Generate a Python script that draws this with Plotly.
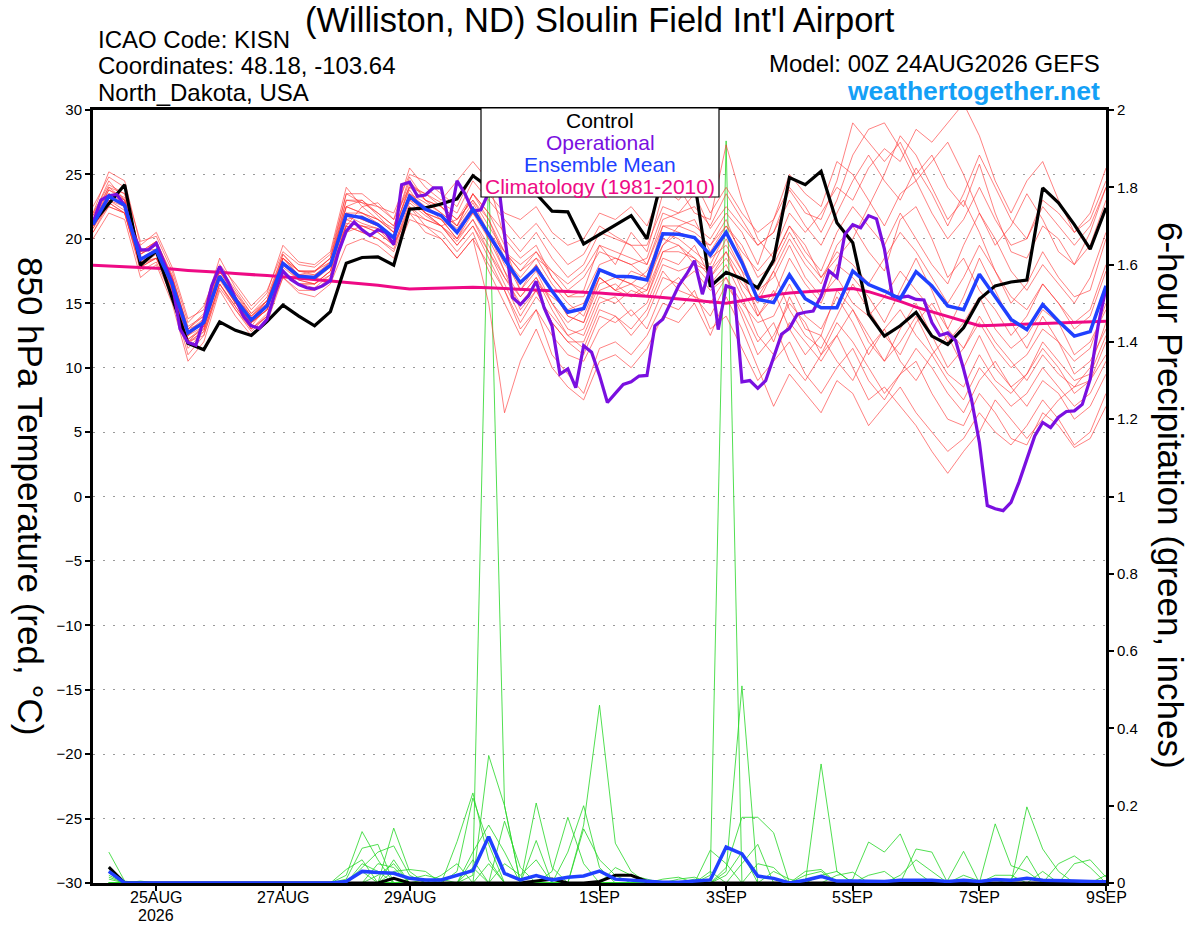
import pandas as pd
import plotly.graph_objects as go

# ---------------- DATA ----------------
TIMES_6H = pd.date_range("2026-08-24 00:00", periods=65, freq="6h")
TIMES_3H = pd.date_range("2026-08-24 00:00", periods=129, freq="3h")
TIMES_PCP = pd.date_range("2026-08-24 06:00", periods=64, freq="6h")

TICK_DATES = ["2026-08-25", "2026-08-27", "2026-08-29", "2026-09-01",
              "2026-09-03", "2026-09-05", "2026-09-07", "2026-09-09"]
TICK_TEXT = ["25AUG", "27AUG", "29AUG", "1SEP", "3SEP", "5SEP", "7SEP", "9SEP"]
YEAR_TEXT = "2026"
TEMP_TICKS = [-30, -25, -20, -15, -10, -5, 0, 5, 10, 15, 20, 25, 30]
PCP_TICKS = [0, 0.2, 0.4, 0.6, 0.8, 1, 1.2, 1.4, 1.6, 1.8, 2]
PCP_TICK_TEXT = ["0", "0.2", "0.4", "0.6", "0.8", "1", "1.2", "1.4", "1.6", "1.8", "2"]

control_t = [21.25, 22.7, 24.2, 17.95, 19.05, 15.4, 11.9, 11.4, 13.55, 12.9, 12.5, 13.6, 14.85, 14.0, 13.25, 14.35,
             18.1, 18.55, 18.6, 17.95, 22.3, 22.4, 22.7, 23.1, 24.9, 24.0, 25.5, 25.0, 23.5, 22.15, 22.1, 19.6,
             20.35, 21.05, 21.8, 20.0, 25.0, 25.5, 24.5, 16.3, 17.4, 16.9, 16.2, 18.35, 24.75, 24.2, 25.25, 21.25,
             19.7, 14.15, 12.45, 13.25, 14.3, 12.45, 11.8, 13.1, 15.3, 16.35, 16.65, 16.8, 23.95, 22.8, 21.1, 19.2, 22.4]

mean_t = [21.1, 23.3, 22.6, 18.4, 19.1, 16.5, 12.7, 13.5, 17.1, 15.3, 13.7, 14.8, 18.1, 17.1, 17.0, 17.95,
          21.85, 21.65, 21.1, 20.1, 23.3, 22.3, 21.8, 20.5, 22.3, 20.35, 18.4, 16.6, 17.75, 15.95, 14.3, 14.6,
          17.6, 17.1, 17.05, 16.8, 20.4, 20.35, 20.1, 18.75, 20.5, 18.15, 15.3, 15.05, 17.2, 15.35, 14.65, 14.65,
          17.5, 16.45, 15.95, 15.35, 17.45, 16.35, 14.8, 14.5, 17.25, 15.5, 13.75, 12.95, 14.9, 13.6, 12.45, 12.8, 16.35]

clim_t = [17.95, 17.9, 17.85, 17.8, 17.7, 17.65, 17.55, 17.5, 17.4, 17.3, 17.25, 17.15, 17.05, 16.95, 16.85, 16.75,
          16.6, 16.5, 16.4, 16.25, 16.1, 16.15, 16.2, 16.25, 16.25, 16.2, 16.15, 16.1, 16.0, 15.95, 15.9, 15.85,
          15.8, 15.7, 15.65, 15.55, 15.45, 15.35, 15.25, 15.1, 15.0, 15.2, 15.45, 15.65, 15.8, 15.9, 16.0, 16.1,
          16.15, 15.9, 15.55, 15.15, 14.7, 14.35, 14.0, 13.6, 13.25, 13.3, 13.35, 13.4, 13.45, 13.5, 13.5, 13.55, 13.6]

oper_t = [21.25, 23.0, 23.35, 23.45, 22.6, 20.5, 19.15, 19.15, 19.65, 18.15,
          16.6, 13.0, 11.95, 11.75, 13.75, 16.35, 17.85, 16.75, 15.3, 14.0,
          13.25, 13.05, 13.75, 15.8, 17.5, 16.85, 16.45, 16.2, 16.1, 16.35,
          16.75, 18.95, 20.6, 21.3, 20.7, 20.25, 20.7, 20.5, 19.55, 24.2,
          24.4, 23.3, 23.4, 23.95, 23.95, 21.25, 24.5, 23.5, 22.15, 22.25,
          23.6, 25.5, 20.35, 15.45, 14.9, 15.55, 16.7, 14.65, 13.25, 9.5,
          9.9, 8.45, 11.7, 11.2, 9.4, 7.3, 8.0, 8.7, 8.9, 9.35,
          9.4, 13.25, 13.75, 15.05, 16.35, 17.25, 18.3, 15.7, 17.85, 12.95,
          16.35, 16.15, 8.9, 9.0, 8.4, 9.0, 10.9, 12.6, 13.05, 14.15,
          14.3, 14.4, 15.55, 17.5, 17.0, 20.35, 21.1, 20.85, 21.8, 21.55,
          19.2, 15.55, 15.45, 15.55, 15.3, 15.25, 13.5, 12.5, 12.7, 12.1,
          9.9, 7.55, 4.2, -0.7, -0.95, -1.1, -0.45, 1.1, 2.9, 4.7,
          5.75, 5.35, 6.15, 6.6, 6.65, 7.15, 9.1, 13.25, 16.2]

# ensemble members, 850 hPa temperature (6-hourly)
mem01_t = [21.5, 24.0, 23.5, 19.0, 19.8, 17.2, 13.0, 14.2, 17.8, 16.0, 14.2, 15.5, 18.8, 17.5, 17.4, 18.5,
           22.5, 23.0, 21.8, 20.5, 24.2, 23.5, 22.8, 22.0, 24.5,
           23.0, 21.5, 20.0, 21.2, 19.5, 18.0, 18.8, 21.0, 20.2, 19.5, 18.0, 21.5, 22.0, 23.5, 20.8, 22.5,
           21.0, 19.5, 20.5, 23.8, 22.0, 21.5, 24.5, 29.0, 27.5, 26.0, 27.5, 25.0, 26.5, 24.0, 22.5, 25.8,
           22.0, 19.0, 18.5, 21.0, 20.0, 18.0, 19.5, 23.0]
mem02_t = [20.8, 22.8, 22.0, 17.8, 18.5, 15.8, 12.0, 12.8, 16.5, 14.8, 13.0, 14.0, 17.5, 16.5, 16.2, 17.2,
           21.0, 20.5, 20.0, 19.2, 22.5, 21.0, 20.5, 19.0, 20.5,
           17.5, 15.0, 12.5, 14.5, 11.0, 9.5, 8.0, 11.5, 12.0, 11.0, 12.5, 15.0, 14.5, 16.0, 13.0, 14.0,
           11.5, 9.0, 10.5, 12.0, 9.5, 8.0, 10.0, 11.5, 9.0, 7.5, 9.5, 10.5, 8.0, 6.0, 5.5, 8.0,
           6.5, 4.5, 4.0, 6.5, 5.5, 3.8, 4.5, 7.0]
mem03_t = [22.0, 25.2, 24.5, 19.5, 20.5, 17.8, 13.8, 14.5, 18.5, 16.2, 14.5, 15.8, 19.5, 18.2, 18.0, 19.0,
           24.0, 22.5, 22.8, 21.5, 25.5, 24.0, 23.0, 24.5, 26.0,
           24.5, 20.0, 18.5, 19.5, 17.0, 15.5, 16.0, 19.5, 18.0, 20.5, 19.0, 23.5, 24.0, 22.0, 21.5, 27.3,
           23.0, 20.0, 18.5, 21.0, 19.5, 17.0, 18.5, 20.0, 22.5, 25.0, 28.0, 26.5, 24.0, 21.5, 23.0, 20.5,
           17.5, 15.0, 16.5, 19.0, 17.0, 15.5, 16.0, 20.0]
mem04_t = [21.0, 23.0, 22.5, 18.2, 19.0, 16.0, 11.8, 13.0, 17.0, 15.0, 13.5, 14.5, 18.0, 17.0, 16.8, 17.8,
           21.5, 21.8, 21.0, 20.0, 23.0, 22.5, 21.5, 20.0, 22.0,
           20.5, 18.0, 16.5, 18.0, 16.0, 14.0, 13.5, 16.5, 17.0, 16.5, 17.5, 20.0, 19.5, 18.0, 17.5, 19.0,
           17.0, 14.5, 12.0, 15.5, 13.0, 12.5, 16.0, 14.5, 12.0, 10.5, 13.0, 15.0, 12.5, 10.0, 11.5, 14.0,
           12.0, 10.5, 9.0, 11.0, 9.5, 8.5, 10.0, 13.5]
mem05_t = [21.8, 24.5, 23.0, 18.8, 19.5, 16.8, 12.5, 13.8, 17.5, 15.5, 14.0, 15.0, 18.5, 17.2, 17.5, 18.2,
           22.0, 22.0, 21.5, 20.8, 23.8, 22.0, 21.0, 21.5, 23.0,
           21.0, 19.0, 17.5, 18.5, 17.5, 16.0, 17.0, 19.0, 18.5, 18.0, 17.0, 19.5, 21.0, 21.5, 19.0, 21.0,
           19.0, 17.5, 19.0, 22.0, 20.5, 22.0, 24.0, 23.0, 25.5, 27.0, 26.0, 28.5, 27.5, 29.0, 30.5, 28.0,
           24.5, 22.0, 24.5, 26.0, 23.0, 20.5, 22.0, 25.5]
mem06_t = [20.5, 22.5, 22.0, 17.5, 18.2, 15.5, 11.0, 12.5, 16.2, 14.5, 12.8, 14.0, 17.0, 16.0, 16.0, 17.0,
           20.5, 21.0, 20.5, 19.5, 22.0, 21.5, 21.0, 19.5, 21.0,
           19.0, 16.5, 14.0, 16.0, 13.5, 12.0, 11.0, 14.0, 13.5, 14.5, 13.0, 16.0, 17.0, 15.5, 14.0, 16.5,
           14.5, 12.0, 13.5, 10.5, 9.0, 11.0, 12.5, 10.0, 7.5, 8.5, 7.0, 5.5, 3.5, 1.8, 3.5, 5.0,
           7.5, 6.0, 4.5, 6.0, 7.5, 8.5, 9.0, 11.0]
mem07_t = [21.2, 23.8, 23.2, 19.0, 19.2, 16.2, 12.2, 13.2, 17.2, 15.2, 13.8, 15.0, 18.2, 16.8, 17.0, 18.0,
           23.0, 22.8, 22.0, 21.0, 24.8, 23.0, 22.5, 21.0, 23.5,
           22.0, 19.5, 16.0, 17.5, 15.0, 13.0, 12.5, 15.5, 15.0, 16.0, 15.5, 18.5, 18.0, 19.5, 17.0, 18.5,
           16.5, 15.0, 17.5, 20.0, 18.0, 16.5, 19.5, 21.0, 19.0, 17.5, 21.5, 22.5, 20.0, 17.0, 18.5, 16.0,
           14.5, 12.5, 14.0, 16.5, 15.0, 13.5, 14.5, 18.0]
mem08_t = [20.0, 22.0, 21.5, 17.0, 18.0, 15.0, 10.5, 12.0, 16.0, 14.0, 12.5, 13.5, 17.0, 15.8, 15.5, 16.5,
           19.5, 20.0, 19.5, 18.5, 21.5, 21.0, 20.0, 18.5, 20.0,
           18.0, 16.0, 13.0, 14.5, 12.5, 11.0, 10.5, 13.0, 14.0, 12.5, 14.0, 17.0, 16.5, 17.5, 16.0, 17.0,
           15.0, 13.5, 14.0, 16.5, 14.0, 13.0, 15.5, 13.5, 11.0, 13.0, 14.5, 12.5, 11.0, 9.0, 7.5, 10.0,
           8.5, 7.0, 8.0, 10.0, 8.5, 7.0, 8.0, 10.5]
mem09_t = [22.5, 24.8, 24.0, 19.8, 20.2, 17.5, 13.5, 14.8, 18.0, 16.5, 14.8, 16.0, 19.0, 18.0, 17.8, 18.8,
           23.5, 23.5, 22.5, 22.0, 25.0, 24.5, 23.5, 22.5, 25.0,
           23.5, 22.0, 21.5, 22.5, 20.5, 19.5, 20.0, 22.0, 21.5, 22.5, 21.0, 24.0, 23.0, 24.5, 22.0, 24.0,
           22.0, 20.5, 21.5, 25.0, 23.5, 22.5, 26.0, 25.0, 23.0, 21.0, 23.5, 24.5, 22.0, 20.0, 21.5, 24.0,
           21.5, 19.5, 20.0, 23.0, 22.0, 20.5, 21.5, 24.5]
mem10_t = [21.5, 23.5, 22.8, 18.5, 19.0, 16.5, 13.0, 13.5, 17.0, 15.2, 13.2, 14.8, 18.0, 17.0, 16.8, 18.0,
           22.0, 21.5, 21.0, 20.0, 23.5, 22.5, 21.8, 20.8, 22.5,
           20.0, 17.5, 15.5, 17.0, 14.5, 12.5, 13.0, 16.0, 16.5, 15.5, 16.0, 19.0, 19.5, 18.5, 17.5, 20.0,
           17.5, 14.0, 15.5, 18.5, 16.5, 15.0, 18.0, 17.0, 15.5, 13.5, 16.0, 18.5, 16.0, 13.0, 15.5, 18.5,
           16.0, 13.5, 11.5, 14.0, 12.0, 10.5, 11.5, 15.0]
mem11_t = [21.0, 23.0, 22.2, 18.0, 18.8, 16.0, 12.5, 13.2, 16.8, 15.0, 13.5, 14.5, 17.8, 16.8, 16.5, 17.5,
           22.5, 22.0, 21.2, 20.2, 23.0, 22.0, 21.0, 19.8, 21.5,
           19.5, 17.0, 15.0, 16.5, 15.5, 14.5, 15.0, 17.5, 17.0, 16.5, 16.0, 20.5, 20.0, 19.0, 18.0, 20.5,
           18.0, 16.0, 17.0, 19.5, 17.0, 15.5, 17.0, 15.0, 14.0, 15.5, 17.5, 16.0, 14.5, 12.0, 13.5, 15.5,
           13.0, 11.5, 12.5, 14.5, 13.5, 11.0, 12.0, 14.5]
mem12_t = [20.8, 23.2, 22.5, 18.2, 18.5, 16.2, 12.2, 13.0, 17.0, 15.0, 13.5, 14.8, 18.5, 17.2, 17.2, 18.0,
           21.8, 21.2, 20.8, 19.8, 23.2, 22.0, 21.5, 20.5, 22.0,
           20.0, 18.5, 17.0, 18.5, 16.5, 15.0, 14.0, 17.0, 16.0, 17.5, 17.0, 21.0, 20.5, 20.0, 19.5, 21.5,
           18.5, 15.5, 17.5, 14.5, 12.5, 11.5, 14.0, 16.5, 14.5, 12.5, 11.0, 13.5, 15.0, 13.0, 11.5, 13.5,
           11.5, 10.0, 11.0, 13.0, 12.0, 9.5, 10.5, 13.0]
mem13_t = [21.8, 24.0, 23.0, 18.8, 19.5, 17.0, 13.2, 14.0, 17.8, 15.8, 14.2, 15.2, 18.8, 17.5, 17.5, 18.5,
           23.5, 22.8, 22.5, 21.5, 24.0, 23.5, 22.5, 21.5, 23.0,
           21.5, 19.0, 17.5, 19.0, 17.0, 15.5, 15.5, 18.0, 18.5, 18.0, 18.5, 22.0, 21.5, 21.0, 20.0, 22.0,
           20.5, 18.0, 21.5, 24.0, 22.5, 20.5, 23.0, 26.5, 28.5, 29.0, 27.0, 24.5, 26.0, 27.5, 25.0, 22.0,
           19.5, 21.0, 23.5, 21.5, 19.0, 18.0, 20.5, 24.0]
mem14_t = [21.2, 23.5, 23.0, 18.5, 19.2, 16.8, 12.8, 13.8, 17.5, 15.5, 13.8, 15.2, 18.2, 17.2, 17.0, 18.2,
           21.0, 22.5, 21.5, 20.5, 23.5, 22.8, 22.0, 21.0, 22.8,
           20.5, 17.5, 14.5, 16.0, 13.5, 12.0, 12.0, 15.0, 15.5, 14.0, 15.0, 18.0, 17.5, 18.0, 16.5, 18.0,
           15.5, 12.5, 11.0, 13.5, 12.0, 10.5, 12.5, 14.5, 12.5, 10.5, 12.0, 14.0, 11.5, 9.5, 8.5, 11.0,
           9.0, 8.0, 9.5, 12.0, 10.5, 9.0, 9.5, 12.5]
mem15_t = [21.5, 23.8, 23.0, 18.8, 19.8, 17.0, 12.8, 13.5, 17.2, 15.5, 14.0, 15.2, 18.5, 17.5, 17.2, 18.2,
           22.5, 22.0, 21.5, 20.5, 24.0, 23.0, 22.0, 21.0, 23.5,
           21.5, 18.5, 16.0, 18.0, 16.0, 14.0, 13.5, 17.0, 16.0, 15.5, 16.5, 19.5, 20.5, 20.0, 18.5, 19.5,
           17.5, 16.0, 18.5, 21.0, 19.0, 17.5, 20.5, 22.5, 21.0, 19.5, 22.0, 20.0, 18.0, 16.5, 19.5, 22.0,
           20.0, 17.5, 16.0, 18.0, 16.5, 15.0, 17.0, 20.5]
mem16_t = [20.5, 22.8, 22.0, 17.8, 18.5, 15.8, 11.5, 12.8, 16.5, 14.8, 13.0, 14.2, 17.5, 16.5, 16.5, 17.2,
           21.2, 21.0, 20.5, 19.5, 22.5, 21.5, 21.0, 19.5, 21.0,
           18.5, 16.0, 13.5, 15.5, 14.0, 12.5, 11.5, 14.5, 14.0, 13.0, 14.5, 17.5, 16.0, 15.5, 15.0, 17.0,
           14.0, 11.0, 12.5, 15.0, 13.5, 11.0, 13.5, 12.0, 10.0, 8.0, 9.5, 11.5, 10.0, 8.0, 6.5, 9.0,
           10.5, 8.5, 7.0, 9.0, 8.0, 6.0, 7.0, 9.5]
mem17_t = [21.0, 23.5, 22.5, 18.0, 19.0, 16.5, 12.5, 13.5, 17.0, 15.5, 13.5, 14.5, 18.0, 17.0, 17.0, 18.0,
           22.0, 21.5, 21.0, 20.0, 23.5, 22.0, 21.5, 20.0, 22.5,
           20.5, 19.0, 18.0, 19.0, 17.5, 16.5, 17.5, 19.5, 19.0, 18.5, 18.0, 21.0, 21.0, 20.5, 19.5, 21.0,
           19.5, 17.0, 18.0, 20.5, 18.5, 17.0, 19.0, 18.0, 16.5, 18.5, 20.5, 19.0, 17.0, 15.0, 17.0, 19.5,
           17.5, 15.5, 14.5, 16.5, 15.0, 13.0, 14.0, 17.5]
mem18_t = [21.5, 23.2, 22.8, 18.5, 19.0, 16.2, 12.0, 13.2, 17.0, 15.0, 13.5, 14.5, 18.0, 16.8, 16.5, 17.5,
           21.5, 21.0, 20.8, 19.5, 22.8, 21.8, 21.0, 20.0, 21.5,
           19.0, 17.0, 15.5, 17.0, 15.0, 13.5, 14.5, 17.0, 16.0, 16.5, 15.5, 19.0, 19.0, 18.5, 17.0, 19.0,
           16.0, 14.0, 16.0, 13.0, 11.0, 12.5, 10.5, 9.0, 11.5, 13.0, 10.5, 9.0, 11.0, 12.5, 10.0, 12.5,
           10.0, 8.5, 9.5, 11.5, 10.0, 8.0, 9.0, 12.0]
mem19_t = [22.0, 24.2, 23.5, 19.0, 19.8, 17.0, 13.0, 14.0, 17.5, 15.8, 14.0, 15.2, 18.5, 17.5, 17.5, 18.5,
           23.0, 23.0, 22.0, 21.0, 24.5, 23.0, 22.5, 21.5, 23.5,
           22.0, 20.5, 19.0, 20.5, 18.5, 17.0, 18.0, 20.5, 20.0, 19.5, 19.5, 22.5, 22.0, 22.5, 21.0, 23.5,
           21.5, 19.5, 20.5, 23.0, 21.0, 19.5, 22.0, 24.5, 26.5, 24.5, 23.0, 25.5, 23.5, 21.0, 23.5, 26.5,
           24.0, 21.5, 20.0, 22.5, 21.0, 19.5, 21.0, 24.0]
mem20_t = [21.0, 22.5, 22.0, 18.0, 18.5, 16.0, 12.0, 12.5, 16.5, 14.5, 13.0, 14.0, 17.5, 16.5, 16.5, 17.5,
           21.0, 20.5, 20.0, 19.0, 22.0, 20.5, 20.0, 18.5, 20.0,
           15.0, 6.5, 10.5, 13.0, 10.0, 8.5, 7.5, 10.5, 11.0, 10.0, 11.5, 14.0, 13.5, 15.0, 12.5, 15.5,
           13.0, 10.0, 7.0, 9.5, 8.0, 6.5, 9.0, 8.0, 5.5, 7.0, 8.5, 6.5, 5.0, 3.5, 4.5, 6.5,
           5.0, 4.0, 5.5, 7.5, 6.0, 4.0, 5.0, 8.0]

MEMBERS_T = [mem01_t, mem02_t, mem03_t, mem04_t, mem05_t, mem06_t, mem07_t, mem08_t, mem09_t, mem10_t,
             mem11_t, mem12_t, mem13_t, mem14_t, mem15_t, mem16_t, mem17_t, mem18_t, mem19_t, mem20_t]

# 6-hour precipitation (inches), valid 06Z 24AUG .. 00Z 9SEP
control_p = [0.041, 0, 0, 0, 0, 0, 0, 0, 0, 0, 0, 0, 0, 0, 0, 0,
             0, 0, 0.012, 0, 0, 0, 0, 0, 0, 0, 0, 0.005, 0.01, 0, 0, 0.004,
             0.02, 0.02, 0.004, 0, 0, 0, 0, 0, 0, 0, 0, 0, 0, 0, 0, 0,
             0, 0, 0, 0, 0, 0, 0, 0, 0, 0, 0, 0, 0, 0, 0, 0]
mean_p = [0.03, 0, 0, 0, 0, 0, 0, 0, 0, 0, 0, 0, 0, 0, 0, 0.004,
          0.03, 0.027, 0.025, 0.012, 0.008, 0.008, 0.021, 0.032, 0.12, 0.025, 0.008, 0.019, 0.008, 0.015, 0.018, 0.031,
          0.01, 0.007, 0.005, 0.002, 0.002, 0.005, 0.008, 0.093, 0.075, 0.018, 0.012, 0, 0.007, 0.017, 0.005, 0.005,
          0.005, 0.004, 0.007, 0.008, 0.007, 0.004, 0.007, 0.004, 0.009, 0.007, 0.012, 0.007, 0.005, 0.005, 0.004, 0.003]

mem01_p = [0.08, 0.005, 0, 0, 0, 0, 0, 0, 0, 0, 0, 0, 0, 0, 0, 0.02,
           0.133, 0.06, 0, 0, 0, 0, 0.107, 0.233, 0.06, 0, 0, 0, 0, 0, 0, 0,
           0, 0, 0, 0, 0, 0.01, 0, 0, 0, 0, 0, 0, 0, 0, 0, 0,
           0, 0, 0, 0, 0, 0, 0, 0, 0, 0, 0.197, 0.088, 0.03, 0, 0, 0]
mem02_p = [0.04, 0, 0.005, 0, 0, 0, 0, 0, 0, 0, 0, 0, 0, 0, 0, 0.035,
           0.06, 0, 0.142, 0.03, 0, 0, 0, 0.06, 0, 0, 0, 0, 0, 0, 0, 0,
           0, 0, 0, 0, 0, 0, 0.085, 0.05, 0, 0, 0, 0, 0, 0, 0, 0,
           0, 0, 0, 0, 0, 0, 0, 0, 0, 0, 0, 0.03, 0, 0.05, 0.06, 0.015]
mem03_p = [0.03, 0, 0, 0, 0, 0, 0, 0, 0, 0, 0, 0, 0, 0, 0, 0.01,
           0.09, 0.1, 0, 0, 0.01, 0, 0, 0, 0.33, 0.2, 0, 0, 0, 0, 0, 0,
           0, 0, 0, 0, 0, 0, 0.03, 0, 0, 0, 0, 0, 0, 0, 0, 0,
           0, 0, 0, 0, 0, 0, 0, 0, 0, 0, 0, 0, 0.05, 0.07, 0.04, 0]
mem04_p = [0.02, 0, 0, 0, 0, 0, 0, 0, 0, 0, 0, 0, 0, 0, 0, 0,
           0.04, 0.08, 0.096, 0.02, 0, 0, 0, 0, 0.05, 0, 0, 0, 0, 0, 0, 0,
           0, 0, 0, 0, 0, 0, 0, 0.04, 0.17, 0.17, 0.13, 0, 0, 0, 0, 0,
           0, 0, 0, 0, 0, 0, 0, 0, 0, 0, 0, 0, 0, 0, 0, 0.02]
mem05_p = [0.015, 0, 0, 0, 0, 0, 0, 0, 0, 0, 0, 0, 0, 0, 0, 0,
           0.03, 0, 0.06, 0, 0, 0, 0, 0, 0, 0.16, 0.04, 0, 0, 0, 0, 0,
           0, 0, 0, 0, 0, 0, 0, 0.02, 0.08, 0, 0, 0, 0, 0, 0, 0,
           0, 0, 0, 0, 0, 0, 0, 0, 0, 0, 0, 0, 0, 0, 0, 0]
mem06_p = [0.01, 0, 0, 0, 0, 0, 0, 0, 0, 0, 0, 0, 0, 0, 0, 0,
           0, 0.05, 0.04, 0, 0, 0, 0, 0, 0, 0.05, 0.02, 0.06, 0, 0, 0, 0,
           0, 0, 0, 0, 0, 0, 0, 0, 0.05, 0.1, 0, 0, 0, 0, 0, 0,
           0, 0, 0, 0, 0, 0, 0, 0, 0, 0, 0, 0, 0, 0, 0, 0]
mem07_p = [0, 0, 0, 0, 0, 0, 0, 0, 0, 0, 0, 0, 0, 0, 0, 0,
           0.05, 0.03, 0, 0, 0, 0, 0, 0, 0, 0, 0, 0.207, 0.04, 0, 0, 0,
           0, 0, 0, 0, 0, 0, 0, 0, 0, 0.05, 0.04, 0, 0, 0, 0, 0,
           0, 0, 0, 0, 0, 0, 0, 0, 0, 0, 0, 0, 0, 0, 0, 0]
mem08_p = [0, 0, 0, 0, 0, 0, 0, 0, 0, 0, 0, 0, 0, 0, 0, 0,
           0, 0.02, 0.05, 0, 0, 0, 0, 0, 0, 0, 0, 0.11, 0, 0, 0, 0,
           0, 0, 0, 0, 0, 0, 0, 0, 0, 0, 0.03, 0.01, 0, 0, 0, 0,
           0, 0, 0, 0, 0, 0, 0, 0, 0, 0, 0, 0, 0, 0, 0, 0]
mem09_p = [0, 0, 0, 0, 0, 0, 0, 0, 0, 0, 0, 0, 0, 0, 0, 0,
           0, 0, 0.03, 0.035, 0.03, 0, 0, 0, 0, 0, 0, 0, 0.03, 0.17, 0.05, 0,
           0, 0, 0, 0, 0, 0, 0, 0, 0, 0, 0, 0, 0.03, 0.035, 0, 0,
           0, 0, 0, 0, 0, 0, 0, 0, 0, 0, 0, 0, 0, 0, 0, 0]
mem10_p = [0, 0, 0, 0, 0, 0, 0, 0, 0, 0, 0, 0, 0, 0, 0, 0,
           0, 0, 0, 0.01, 0.02, 0.01, 0, 0, 0, 0, 0, 0, 0, 0.08, 0.2, 0.04,
           0, 0, 0, 0, 0, 0, 0, 0, 0, 0, 0, 0, 0.02, 0.03, 0, 0,
           0, 0, 0, 0, 0, 0, 0, 0, 0, 0, 0, 0, 0, 0, 0, 0]
mem11_p = [0, 0, 0, 0, 0, 0, 0, 0, 0, 0, 0, 0, 0, 0, 0, 0,
           0, 0, 0, 0, 0, 0.02, 0.05, 0, 0, 0, 0, 0, 0, 0, 0.14, 0.06,
           0.02, 0, 0, 0, 0, 0, 0, 0, 0, 0, 0, 0, 0, 0.02, 0.03, 0,
           0, 0, 0, 0, 0, 0, 0, 0, 0, 0, 0, 0, 0, 0, 0, 0]
mem12_p = [0, 0, 0, 0, 0, 0, 0, 0, 0, 0, 0, 0, 0, 0, 0, 0,
           0, 0, 0, 0, 0, 0, 0.03, 0.22, 0.1, 0, 0, 0, 0, 0, 0, 0,
           0.04, 0.02, 0.01, 0, 0, 0, 0, 0, 0, 0, 0, 0, 0, 0, 0.02, 0.028,
           0, 0, 0, 0, 0, 0, 0, 0, 0, 0, 0, 0, 0, 0, 0, 0]
mem13_p = [0, 0, 0, 0, 0, 0, 0, 0, 0, 0, 0, 0, 0, 0, 0, 0,
           0, 0, 0, 0, 0, 0, 0, 0.08, 0.15, 0.08, 0, 0, 0, 0, 0, 0,
           0, 0, 0, 0.01, 0.015, 0, 0, 0, 0, 0, 0, 0, 0, 0, 0, 0.01,
           0.106, 0.08, 0.127, 0.03, 0, 0, 0, 0, 0, 0, 0, 0, 0, 0, 0, 0]
mem14_p = [0, 0, 0, 0, 0, 0, 0, 0, 0, 0, 0, 0, 0, 0, 0, 0,
           0, 0, 0, 0, 0, 0, 0, 0.04, 0, 0, 0, 0, 0, 0, 0, 0,
           0, 0, 0, 0, 0.01, 0.015, 0, 0, 0, 0, 0, 0, 0, 0, 0, 0,
           0.02, 0.03, 0, 0.088, 0.08, 0, 0, 0, 0, 0, 0, 0, 0, 0, 0, 0]
mem15_p = [0, 0, 0, 0, 0, 0, 0, 0, 0, 0, 0, 0, 0, 0, 0, 0,
           0, 0, 0, 0, 0, 0, 0, 0.02, 1.85, 0.2, 0, 0, 0, 0, 0, 0,
           0, 0, 0, 0, 0, 0, 0, 0, 0, 0, 0, 0, 0, 0, 0, 0,
           0, 0, 0.02, 0.06, 0.03, 0, 0, 0, 0, 0, 0, 0, 0, 0, 0, 0]
mem16_p = [0, 0, 0, 0, 0, 0, 0, 0, 0, 0, 0, 0, 0, 0, 0, 0,
           0, 0, 0, 0, 0, 0, 0, 0, 0, 0, 0, 0, 0, 0, 0.15, 0.46,
           0.103, 0.03, 0, 0, 0, 0, 0, 0, 0, 0, 0, 0, 0, 0, 0, 0,
           0, 0, 0, 0, 0, 0.007, 0.082, 0, 0, 0, 0, 0, 0, 0, 0, 0]
mem17_p = [0, 0, 0, 0, 0, 0, 0, 0, 0, 0, 0, 0, 0, 0, 0, 0,
           0, 0, 0, 0, 0, 0, 0, 0, 0, 0, 0, 0, 0, 0, 0, 0,
           0, 0, 0, 0, 0, 0, 0.02, 1.92, 0, 0, 0, 0, 0, 0, 0, 0,
           0, 0, 0, 0, 0, 0, 0.02, 0.005, 0, 0, 0, 0, 0, 0, 0, 0]
mem18_p = [0, 0, 0, 0, 0, 0, 0, 0, 0, 0, 0, 0, 0, 0, 0, 0,
           0, 0, 0, 0, 0, 0, 0, 0, 0, 0, 0, 0, 0, 0, 0, 0,
           0, 0, 0, 0, 0, 0, 0, 0.03, 0.51, 0, 0, 0, 0, 0, 0, 0,
           0, 0, 0, 0, 0, 0, 0, 0, 0.02, 0.02, 0, 0, 0, 0, 0, 0]
mem19_p = [0, 0, 0, 0, 0, 0, 0, 0, 0, 0, 0, 0, 0, 0, 0, 0,
           0, 0, 0, 0, 0, 0, 0, 0, 0, 0, 0, 0, 0, 0, 0, 0,
           0, 0, 0, 0, 0, 0, 0, 0, 0, 0, 0, 0, 0, 0.308, 0.03, 0,
           0, 0, 0, 0, 0, 0, 0, 0, 0, 0.01, 0.07, 0, 0, 0, 0, 0]
mem20_p = [0, 0, 0, 0, 0, 0, 0, 0, 0, 0, 0, 0, 0, 0, 0, 0,
           0, 0, 0, 0, 0, 0, 0, 0, 0, 0, 0, 0, 0, 0, 0, 0,
           0, 0, 0, 0, 0, 0, 0, 0, 0, 0, 0, 0, 0, 0, 0, 0,
           0, 0, 0, 0, 0, 0, 0, 0, 0.153, 0.045, 0.03, 0, 0, 0, 0, 0]

MEMBERS_P = [mem01_p, mem02_p, mem03_p, mem04_p, mem05_p, mem06_p, mem07_p, mem08_p, mem09_p, mem10_p,
             mem11_p, mem12_p, mem13_p, mem14_p, mem15_p, mem16_p, mem17_p, mem18_p, mem19_p, mem20_p]

TITLE = "(Williston, ND) Sloulin Field Int'l Airport"
INFO_LEFT = ["ICAO Code: KISN", "Coordinates: 48.18, -103.64", "North_Dakota, USA"]
MODEL_TEXT = "Model: 00Z 24AUG2026 GEFS"
SITE_TEXT = "weathertogether.net"
LEGEND_ITEMS = ["Control", "Operational", "Ensemble Mean", "Climatology (1981-2010)"]

# ---------------- STYLE ----------------
FONT = "Liberation Sans, Arial, Helvetica, sans-serif"
C_RED = "rgba(255,45,45,0.75)"
C_GREEN = "rgba(40,215,40,0.9)"
C_BLACK = "#000000"
C_PURPLE = "#7A0FE0"
C_BLUE = "#2040FF"
C_PINK = "#EE0A85"
LEGEND_COLORS = [C_BLACK, C_PURPLE, C_BLUE, C_PINK]

W, H = 1200, 927
L, R, T, B = 93, 1106, 110, 883


def px(x):
    return (x - L) / (R - L)


def py(y):
    return (B - y) / (B - T)


fig = go.Figure()

# precipitation (primary axis, right side)
for m in MEMBERS_P:
    fig.add_trace(go.Scatter(x=TIMES_PCP, y=m, mode="lines", yaxis="y",
                             line=dict(color=C_GREEN, width=0.9), hoverinfo="skip", showlegend=False))
fig.add_trace(go.Scatter(x=TIMES_PCP, y=control_p, mode="lines", yaxis="y",
                         line=dict(color=C_BLACK, width=3), showlegend=False))
fig.add_trace(go.Scatter(x=TIMES_PCP, y=mean_p, mode="lines", yaxis="y",
                         line=dict(color=C_BLUE, width=3.5), showlegend=False))

# temperature (overlay axis, left side)
for m in MEMBERS_T:
    fig.add_trace(go.Scatter(x=TIMES_6H, y=m, mode="lines", yaxis="y2",
                             line=dict(color=C_RED, width=0.8), hoverinfo="skip", showlegend=False))
fig.add_trace(go.Scatter(x=TIMES_6H, y=clim_t, mode="lines", yaxis="y2",
                         line=dict(color=C_PINK, width=3), showlegend=False))
fig.add_trace(go.Scatter(x=TIMES_6H, y=control_t, mode="lines", yaxis="y2",
                         line=dict(color=C_BLACK, width=3.2), showlegend=False))
fig.add_trace(go.Scatter(x=TIMES_3H, y=oper_t, mode="lines", yaxis="y2",
                         line=dict(color=C_PURPLE, width=3.2), showlegend=False))
fig.add_trace(go.Scatter(x=TIMES_6H, y=mean_t, mode="lines", yaxis="y2",
                         line=dict(color=C_BLUE, width=3.5), showlegend=False))

annotations = []
annotations.append(dict(text=TITLE, x=px(600), y=py(20), xref="paper", yref="paper",
                        xanchor="center", yanchor="middle", showarrow=False,
                        font=dict(family=FONT, size=34.5, color="black")))
for txt, yy in zip(INFO_LEFT, [40, 66, 93]):
    annotations.append(dict(text=txt, x=px(96), y=py(yy), xref="paper", yref="paper",
                            xanchor="left", yanchor="middle", showarrow=False,
                            font=dict(family=FONT, size=24, color="black")))
annotations.append(dict(text=MODEL_TEXT, x=px(1102), y=py(63), xref="paper", yref="paper",
                        xanchor="right", yanchor="middle", showarrow=False,
                        font=dict(family=FONT, size=24, color="black")))
annotations.append(dict(text="<b>" + SITE_TEXT + "</b>", x=px(1102), y=py(91), xref="paper", yref="paper",
                        xanchor="right", yanchor="middle", showarrow=False,
                        font=dict(family=FONT, size=26.5, color="#14A0F6")))
for txt, col, yy in zip(LEGEND_ITEMS, LEGEND_COLORS, [121, 142, 164, 186]):
    annotations.append(dict(text=txt, x=px(600), y=py(yy), xref="paper", yref="paper",
                            xanchor="center", yanchor="middle", showarrow=False,
                            font=dict(family=FONT, size=21, color=col)))
annotations.append(dict(text="850 hPa Temperature (red, °C)", x=px(31), y=py(496),
                        xref="paper", yref="paper", xanchor="center", yanchor="middle",
                        textangle=90, showarrow=False, font=dict(family=FONT, size=35, color="black")))
annotations.append(dict(text="6-hour Precipitation (green, inches)", x=px(1171), y=py(495),
                        xref="paper", yref="paper", xanchor="center", yanchor="middle",
                        textangle=90, showarrow=False, font=dict(family=FONT, size=35, color="black")))
# x tick labels placed just under the axis
for d, txt in zip(TICK_DATES, TICK_TEXT):
    annotations.append(dict(text=txt, x=d, y=py(897), xref="x", yref="paper",
                            xanchor="center", yanchor="middle", showarrow=False,
                            font=dict(family=FONT, size=16, color="black")))
annotations.append(dict(text=YEAR_TEXT, x=TICK_DATES[0], y=py(915), xref="x", yref="paper",
                        xanchor="center", yanchor="middle", showarrow=False,
                        font=dict(family=FONT, size=16, color="black")))

shapes = [dict(type="rect", xref="paper", yref="paper", x0=px(481), x1=px(719), y0=py(197), y1=py(108),
               fillcolor="white", line=dict(color="black", width=1.2), layer="above")]

fig.update_layout(
    width=W, height=H, autosize=False,
    margin=dict(l=L, r=W - R, t=T, b=H - B, pad=0, autoexpand=False),
    paper_bgcolor="white", plot_bgcolor="white",
    showlegend=False,
    font=dict(family=FONT, size=15, color="black"),
    annotations=annotations,
    shapes=shapes,
    xaxis=dict(type="date", range=["2026-08-24 00:00", "2026-09-09 00:00"],
               tickmode="array", tickvals=TICK_DATES, showticklabels=False,
               ticks="outside", ticklen=5, tickwidth=1.5, tickcolor="black",
               showline=True, linecolor="black", linewidth=3, mirror=True, automargin=False,
               showgrid=False, zeroline=False),
    yaxis=dict(range=[0, 2], side="right", tickmode="array", tickvals=PCP_TICKS, ticktext=PCP_TICK_TEXT,
               ticks="outside", ticklen=5, tickwidth=1.5, tickcolor="black", automargin=False,
               showline=True, linecolor="black", linewidth=3,
               showgrid=False, zeroline=False, tickfont=dict(family=FONT, size=15)),
    yaxis2=dict(range=[-30, 30], side="left", overlaying="y", tickmode="array", tickvals=TEMP_TICKS,
                ticks="outside", ticklen=5, tickwidth=1.5, tickcolor="black", automargin=False,
                showline=True, linecolor="black", linewidth=3,
                showgrid=True, gridcolor="#9a9a9a", gridwidth=1, griddash="2px,8px",
                zeroline=False, tickfont=dict(family=FONT, size=15)),
)

fig.write_html("out.html", config={"displayModeBar": False},
               post_script="document.body.style.margin='0';document.body.style.padding='0';")
